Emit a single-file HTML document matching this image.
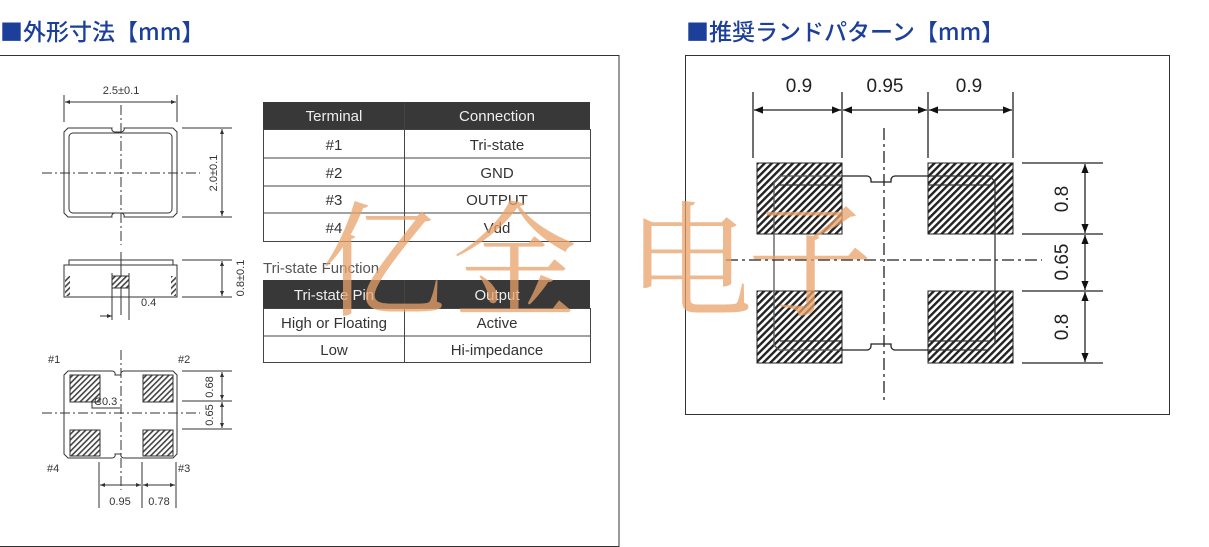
<!DOCTYPE html>
<html><head><meta charset="utf-8"><style>
body{margin:0;background:#fff;width:1209px;height:547px;overflow:hidden;position:relative;font-family:"Liberation Sans","Noto Sans CJK JP",sans-serif}
.t{position:absolute;color:#1c3f99;font-size:23px;font-weight:500;top:13px;font-family:"Noto Sans CJK JP",sans-serif;letter-spacing:0px}
</style></head><body>
<div class="t" style="left:0">■外形寸法【mm】</div>
<div class="t" style="left:686px">■推奨ランドパターン【mm】</div>
<svg width="1209" height="547" style="position:absolute;left:0;top:0" font-family="Liberation Sans, sans-serif">
<defs>
<pattern id="h" width="5" height="5" patternUnits="userSpaceOnUse" patternTransform="rotate(45)"><rect width="5" height="5" fill="#fff"/><rect width="2.4" height="5" fill="#222"/></pattern>
<pattern id="h2" width="4" height="4" patternUnits="userSpaceOnUse" patternTransform="rotate(45)"><rect width="4" height="4" fill="#fff"/><rect width="1.6" height="4" fill="#444"/></pattern>
<marker id="a" viewBox="0 0 10 10" refX="10" refY="5" markerWidth="7" markerHeight="7" orient="auto-start-reverse"><path d="M0,1 L10,5 L0,9z" fill="#111"/></marker>
<marker id="s" viewBox="0 0 10 10" refX="10" refY="5" markerWidth="5" markerHeight="5" orient="auto-start-reverse"><path d="M0,1 L10,5 L0,9z" fill="#333"/></marker>
</defs>
<rect x="-1" y="55.5" width="620" height="491" fill="none" stroke="#333" stroke-width="1"/>
<rect x="685.5" y="55.5" width="484" height="359" fill="none" stroke="#333" stroke-width="1"/>

<g stroke="#333" fill="none" stroke-width="1">
<line x1="64" y1="95" x2="64" y2="122"/><line x1="177" y1="95" x2="177" y2="122"/>
<line x1="65" y1="102" x2="176" y2="102" marker-start="url(#s)" marker-end="url(#s)"/>
<path d="M68,128 H112 a3,3 0 0 0 3,4 h6 a3,3 0 0 0 3,-4 H173 l4,4 V213 l-4,4 H124 a3,3 0 0 0 -3,-4 h-6 a3,3 0 0 0 -3,4 H68 l-4,-4 V132z"/>
<rect x="69" y="133" width="103" height="80" rx="4"/>
<line x1="182" y1="128" x2="232" y2="128"/><line x1="182" y1="217" x2="232" y2="217"/>
<line x1="222" y1="129" x2="222" y2="216" marker-start="url(#s)" marker-end="url(#s)"/>
<line x1="42" y1="173" x2="200" y2="173" stroke-dasharray="10,3,2,3"/>
<line x1="121" y1="105" x2="121" y2="245" stroke-dasharray="10,3,2,3"/>
<path d="M69,260 H173 V265 H177 V297 H64 V265 H69z"/>
<line x1="64" y1="265" x2="177" y2="265"/>
<line x1="121" y1="252" x2="121" y2="315"/>
<line x1="182" y1="260" x2="232" y2="260"/><line x1="182" y1="297" x2="232" y2="297"/>
<line x1="222" y1="261" x2="222" y2="296" marker-start="url(#s)" marker-end="url(#s)"/>
<line x1="112" y1="273" x2="112" y2="320"/><line x1="129" y1="273" x2="129" y2="320"/>
<line x1="100" y1="316" x2="112" y2="316" marker-end="url(#s)"/>
<path d="M68,371 H112 a3,3 0 0 1 3,4 h6 a3,3 0 0 1 3,-4 H173 l4,4 V454 l-4,4 H124 a3,3 0 0 1 -3,-4 h-6 a3,3 0 0 1 -3,4 H68 l-4,-4 V375z"/>
<line x1="42" y1="413" x2="200" y2="413" stroke-dasharray="10,3,2,3"/>
<line x1="121" y1="350" x2="121" y2="490" stroke-dasharray="10,3,2,3"/>
<line x1="182" y1="371" x2="232" y2="371"/><line x1="182" y1="401" x2="232" y2="401"/><line x1="182" y1="429" x2="232" y2="429"/>
<line x1="222" y1="372" x2="222" y2="400" marker-start="url(#s)" marker-end="url(#s)"/>
<line x1="222" y1="402" x2="222" y2="428" marker-start="url(#s)" marker-end="url(#s)"/>
<line x1="99" y1="462" x2="99" y2="508"/><line x1="142" y1="462" x2="142" y2="508"/><line x1="176" y1="462" x2="176" y2="508"/>
<line x1="100" y1="485" x2="141" y2="485" marker-start="url(#s)" marker-end="url(#s)"/>
<line x1="143" y1="485" x2="175" y2="485" marker-start="url(#s)" marker-end="url(#s)"/>
<path d="M92,400 V408 H120"/>
</g>
<rect x="112" y="276" width="17" height="12" fill="url(#h2)" stroke="#333"/>
<rect x="65" y="276" width="5" height="20" fill="url(#h2)"/><rect x="171" y="276" width="5" height="20" fill="url(#h2)"/>
<rect x="70" y="375" width="30" height="27" fill="url(#h2)" stroke="#333"/>
<rect x="143" y="375" width="30" height="27" fill="url(#h2)" stroke="#333"/>
<rect x="70" y="430" width="30" height="26" fill="url(#h2)" stroke="#333"/>
<rect x="143" y="430" width="30" height="26" fill="url(#h2)" stroke="#333"/>
<g font-size="11" fill="#333">
<text x="121" y="94" text-anchor="middle">2.5±0.1</text>
<text transform="translate(217,173) rotate(-90)" text-anchor="middle">2.0±0.1</text>
<text transform="translate(244,278) rotate(-90)" text-anchor="middle">0.8±0.1</text>
<text x="141" y="306">0.4</text>
<text x="48" y="363">#1</text><text x="178" y="363">#2</text>
<text x="47" y="472">#4</text><text x="178" y="472">#3</text>
<text x="94" y="405">C0.3</text>
<text transform="translate(213,387) rotate(-90)" text-anchor="middle">0.68</text>
<text transform="translate(213,415) rotate(-90)" text-anchor="middle">0.65</text>
<text x="120" y="505" text-anchor="middle">0.95</text>
<text x="159" y="505" text-anchor="middle">0.78</text>
</g>

<rect x="263" y="102" width="327" height="27" fill="#383838"/>
<rect x="263" y="280" width="327" height="28" fill="#383838"/>
<g stroke="#444" fill="none">
<rect x="263.5" y="129.5" width="327" height="112"/>
<line x1="263" y1="158" x2="590" y2="158"/><line x1="263" y1="186" x2="590" y2="186"/><line x1="263" y1="213" x2="590" y2="213"/>
<line x1="404.5" y1="102" x2="404.5" y2="241"/>
<rect x="263.5" y="308.5" width="327" height="54"/>
<line x1="263" y1="336" x2="590" y2="336"/>
<line x1="404.5" y1="280" x2="404.5" y2="363"/>
</g>
<g font-size="15" text-anchor="middle" fill="#333">
<text x="334" y="121" fill="#eee">Terminal</text><text x="497" y="121" fill="#eee">Connection</text>
<text x="334" y="150">#1</text><text x="497" y="150">Tri-state</text>
<text x="334" y="178">#2</text><text x="497" y="178">GND</text>
<text x="334" y="205">#3</text><text x="497" y="205">OUTPUT</text>
<text x="334" y="233">#4</text><text x="497" y="233">Vdd</text>
<text x="334" y="300" fill="#eee">Tri-state Pin</text><text x="497" y="300" fill="#eee">Output</text>
<text x="334" y="328">High or Floating</text><text x="497" y="328">Active</text>
<text x="334" y="355">Low</text><text x="497" y="355">Hi-impedance</text>
<text x="263" y="273" text-anchor="start" fill="#555">Tri-state Function</text>
</g>

<rect x="757" y="163" width="85" height="71" fill="url(#h)" stroke="#222"/>
<rect x="928" y="163" width="85" height="71" fill="url(#h)" stroke="#222"/>
<rect x="757" y="291" width="85" height="72" fill="url(#h)" stroke="#222"/>
<rect x="928" y="291" width="85" height="72" fill="url(#h)" stroke="#222"/>
<g stroke="#222" fill="none" stroke-width="1.3">
<path d="M842,176 H867 a4,4 0 0 1 4,4 v2 h20 v-2 a4,4 0 0 1 4,-4 H928"/>
<path d="M842,350 H867 a4,4 0 0 0 4,-4 v-2 h20 v2 a4,4 0 0 0 4,4 H928"/>
<path d="M842,176 H780 l-6,6 V345 l5,5 H842" stroke="#555"/>
<path d="M928,176 H990 l5,6 V343 l-6,7 H928" stroke="#333"/>
<path d="M842,185 H778 M928,185 H990 M842,341 H780 M928,341 H990" stroke="#333"/>
<line x1="726" y1="260" x2="1042" y2="260" stroke-dasharray="12,4,3,4"/>
<line x1="884" y1="128" x2="884" y2="400" stroke-dasharray="12,4,3,4"/>
<line x1="753" y1="92" x2="753" y2="158"/><line x1="842" y1="92" x2="842" y2="158"/>
<line x1="928" y1="92" x2="928" y2="158"/><line x1="1013" y1="92" x2="1013" y2="158"/>
<line x1="754" y1="110" x2="841" y2="110" marker-start="url(#a)" marker-end="url(#a)"/>
<line x1="843" y1="110" x2="927" y2="110" marker-start="url(#a)" marker-end="url(#a)"/>
<line x1="929" y1="110" x2="1012" y2="110" marker-start="url(#a)" marker-end="url(#a)"/>
<line x1="1022" y1="163" x2="1103" y2="163"/><line x1="1022" y1="234" x2="1103" y2="234"/>
<line x1="1022" y1="291" x2="1103" y2="291"/><line x1="1022" y1="363" x2="1103" y2="363"/>
<line x1="1085" y1="164" x2="1085" y2="233" marker-start="url(#a)" marker-end="url(#a)"/>
<line x1="1085" y1="235" x2="1085" y2="290" marker-start="url(#a)" marker-end="url(#a)"/>
<line x1="1085" y1="292" x2="1085" y2="362" marker-start="url(#a)" marker-end="url(#a)"/>
</g>
<g font-size="19" fill="#222" text-anchor="middle">
<text x="799" y="92">0.9</text><text x="885" y="92">0.95</text><text x="969" y="92">0.9</text>
<text transform="translate(1068,199) rotate(-90)">0.8</text>
<text transform="translate(1068,262) rotate(-90)">0.65</text>
<text transform="translate(1068,327) rotate(-90)">0.8</text>
</g>

<g font-family="Noto Serif CJK SC, serif" font-size="125" fill="#e8a26a" fill-opacity="0.75" text-anchor="middle">
<text x="383" y="306">亿</text><text x="515" y="306">金</text><text x="690" y="306">电</text><text x="810" y="306">子</text>
</g>
</svg>
</body></html>
